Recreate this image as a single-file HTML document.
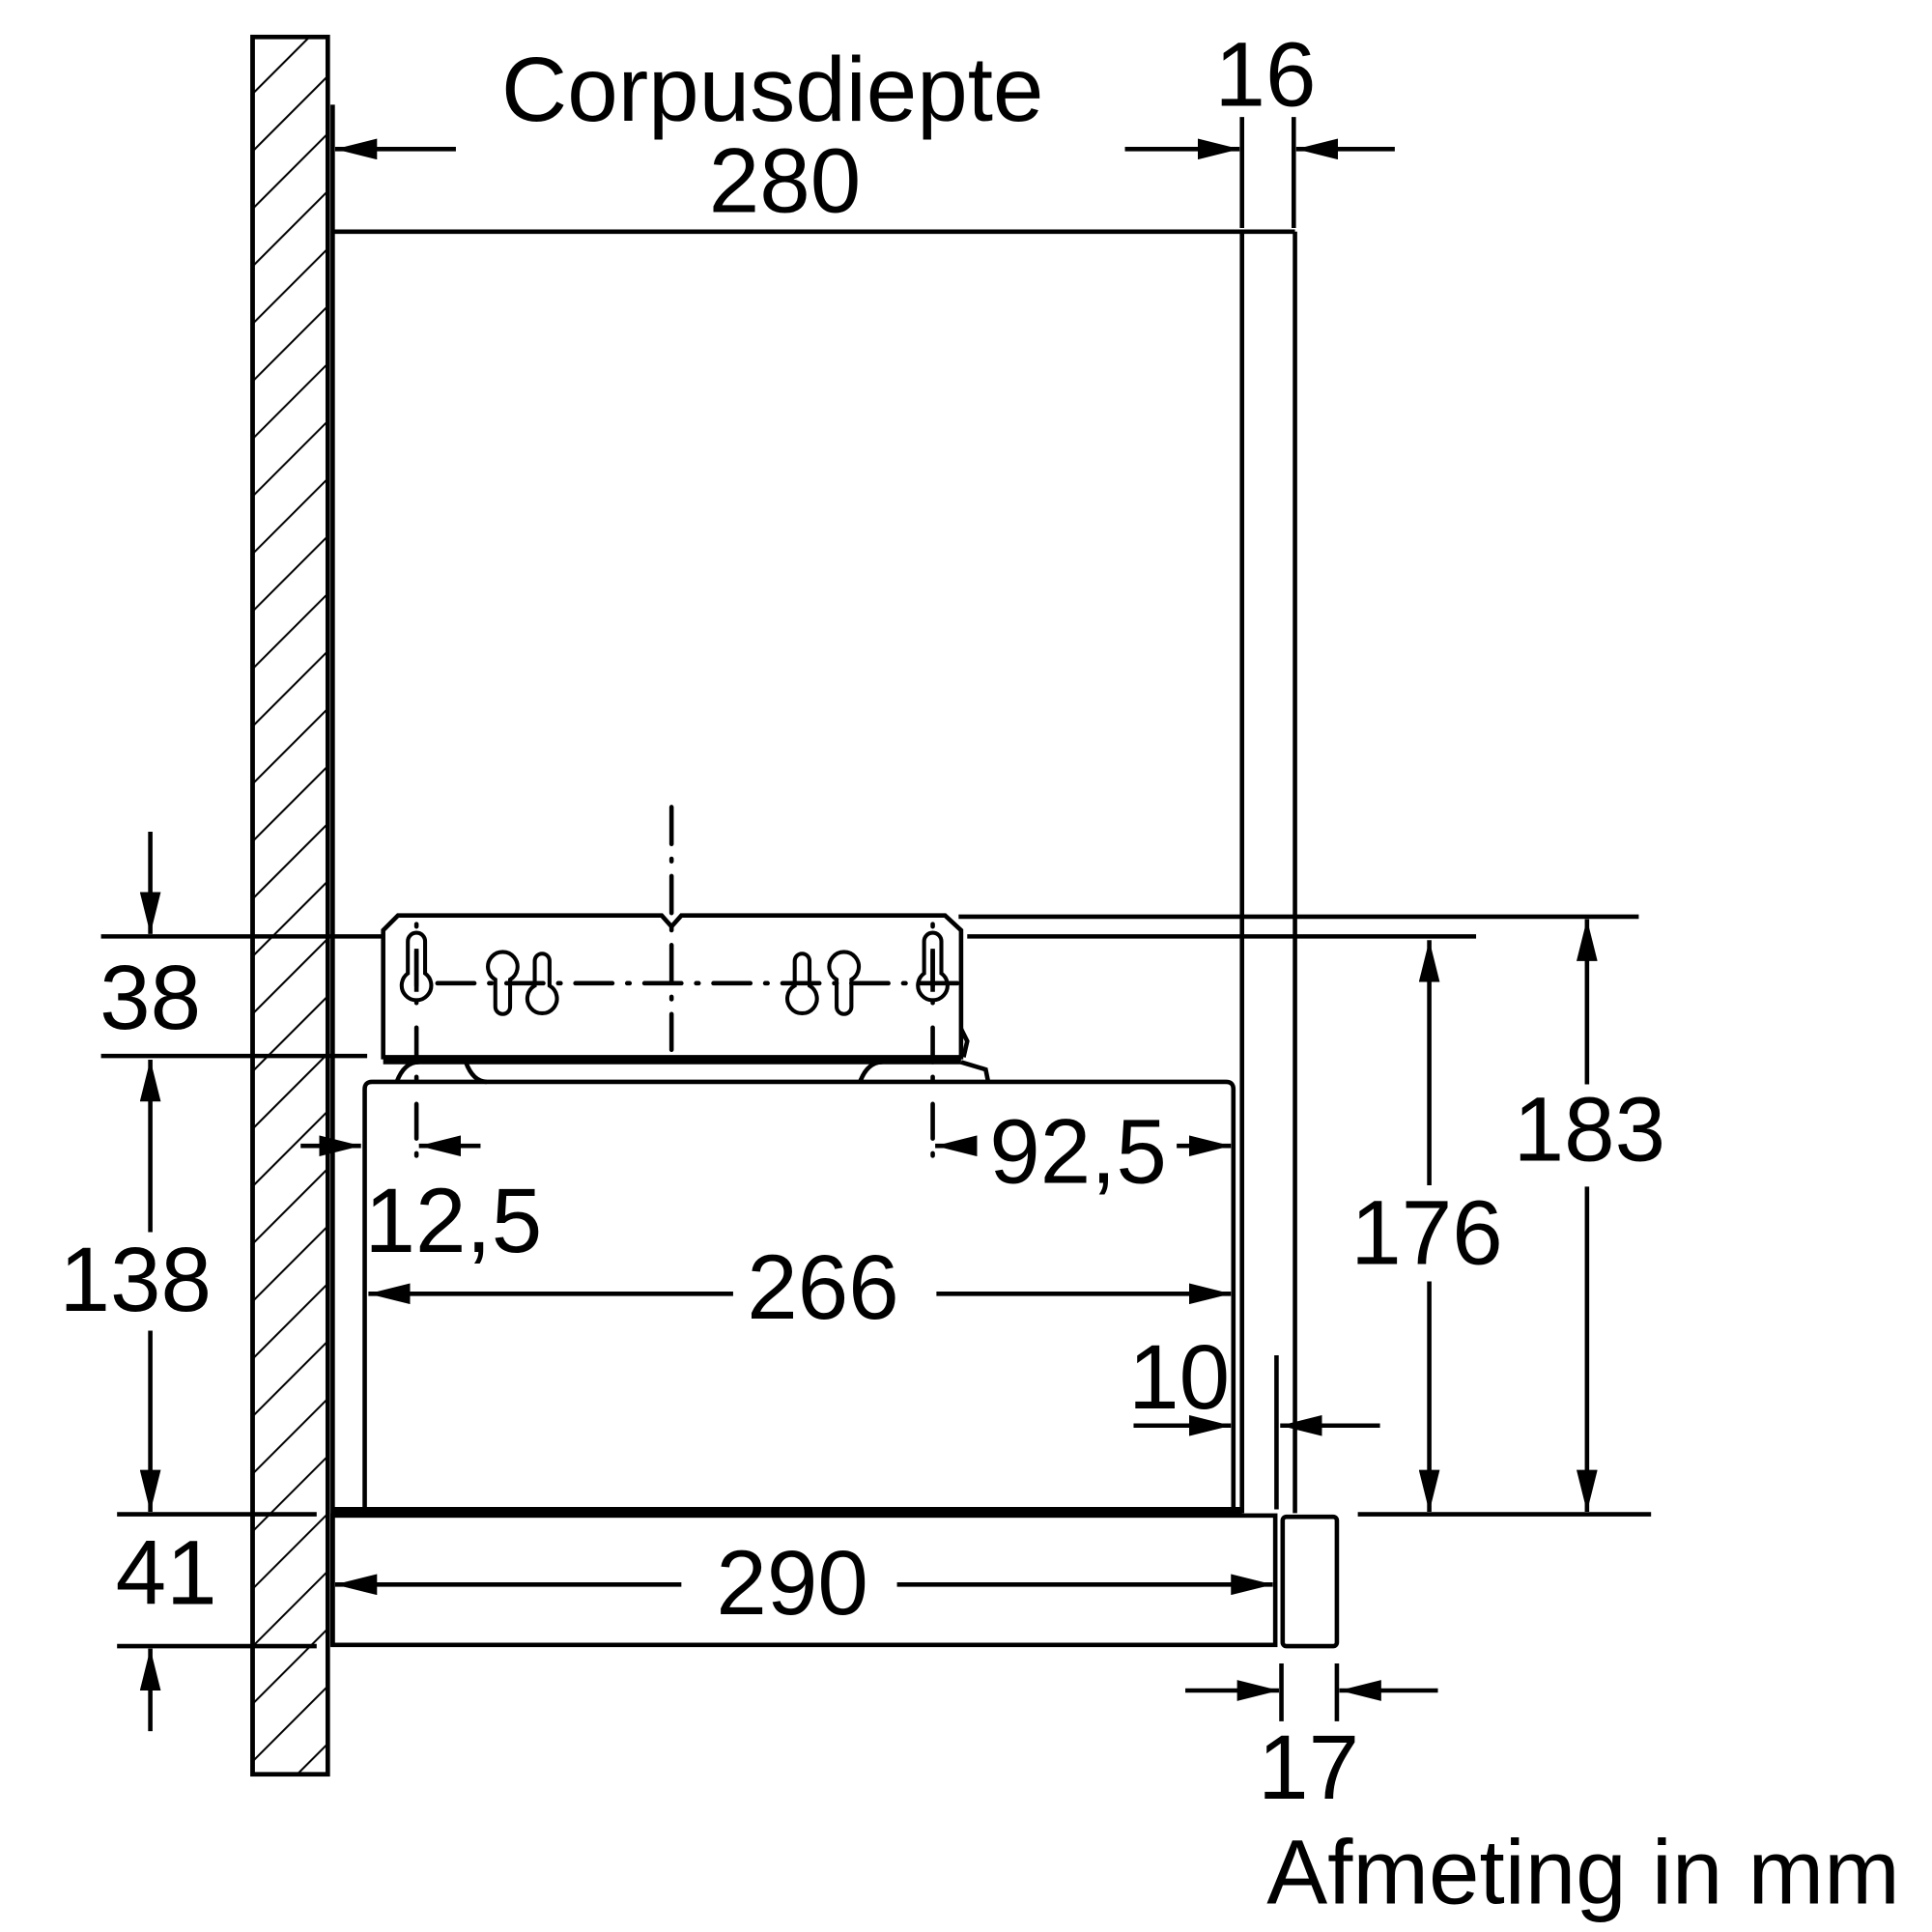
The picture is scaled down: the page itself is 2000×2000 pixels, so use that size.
<!DOCTYPE html>
<html><head><meta charset="utf-8"><style>html,body{margin:0;padding:0;background:#fff}svg{display:block}</style></head>
<body>
<svg xmlns="http://www.w3.org/2000/svg" width="2000" height="2000" viewBox="0 0 1568 1568">
<defs>
<pattern id="h" patternUnits="userSpaceOnUse" width="33" height="33" patternTransform="rotate(45)">
<line x1="0" y1="0" x2="0" y2="33" stroke="#000" stroke-width="3.2"/>
</pattern>
<marker id="a" viewBox="0 0 20 10" refX="20" refY="5" markerWidth="34" markerHeight="17" markerUnits="userSpaceOnUse" orient="auto"><path d="M0,0L20,5L0,10z" fill="#000"/></marker>
</defs>
<g fill="none" stroke="#000" stroke-width="3.6">
<rect x="205" y="30" width="61" height="1410" fill="url(#h)"/>
<rect x="205" y="30" width="61" height="1410"/>
<line x1="270" y1="85" x2="270" y2="1336"/>
<line x1="270" y1="188" x2="1051" y2="188"/>
<line x1="1008" y1="188" x2="1008" y2="1228"/>
<line x1="1051" y1="188" x2="1051" y2="1228"/>
<path d="M311,755L323,743L537,743L545,752L553,743L767,743L780,755L780,858L311,858Z"/>
<line x1="311" y1="861" x2="780" y2="861" stroke-width="5.5"/>
<path d="M322,878Q328,862 340,862M378,862Q384,878 395,878M698,878Q704,862 716,862M780,862L800,868L802,878"/>
<path d="M780,835L785,845L782,858"/>
<path d="M331,790L331,764A7,7 0 0 1 345,764L345,790A12,12 0 1 1 331,790Z" stroke-width="3.2"/>
<line x1="338" y1="770" x2="338" y2="805"/>
<path d="M402,795A12,12 0 1 1 414,795L414,817A6,6 0 0 1 402,817Z" stroke-width="3.2"/>
<path d="M434,800L434,780A6,6 0 0 1 446,780L446,800A12,12 0 1 1 434,800Z" stroke-width="3.2"/>
<path d="M645,800L645,780A6,6 0 0 1 657,780L657,800A12,12 0 1 1 645,800Z" stroke-width="3.2"/>
<path d="M679,795A12,12 0 1 1 691,795L691,817A6,6 0 0 1 679,817Z" stroke-width="3.2"/>
<path d="M750,790L750,764A7,7 0 0 1 764,764L764,790A12,12 0 1 1 750,790Z" stroke-width="3.2"/>
<line x1="757" y1="770" x2="757" y2="805"/>
<line x1="355" y1="798" x2="785" y2="798" stroke-dasharray="30,12,2,12" stroke-linecap="round"/>
<line x1="545" y1="655" x2="545" y2="852" stroke-dasharray="30,12,2,12" stroke-linecap="round"/>
<line x1="338" y1="750" x2="338" y2="950" stroke-dasharray="2,20,28,12" stroke-linecap="round"/>
<line x1="757" y1="750" x2="757" y2="950" stroke-dasharray="2,20,28,12" stroke-linecap="round"/>
<path d="M296,1228L296,884Q296,878 302,878L995,878Q1001,878 1001,884L1001,1228"/>
<line x1="270" y1="1226" x2="1008" y2="1226" stroke-width="6"/>
<rect x="270" y="1230" width="765" height="105"/>
<rect x="1041" y="1231" width="44" height="105" rx="3"/>
<line x1="82" y1="760" x2="310" y2="760"/>
<line x1="785" y1="760" x2="1198" y2="760"/>
<line x1="778" y1="744" x2="1330" y2="744"/>
<line x1="82" y1="857" x2="298" y2="857"/>
<line x1="95" y1="1229" x2="257" y2="1229"/>
<line x1="1102" y1="1229" x2="1340" y2="1229"/>
<line x1="95" y1="1336" x2="257" y2="1336"/>
<line x1="370" y1="121" x2="272" y2="121" marker-end="url(#a)"/>
<line x1="1008" y1="95" x2="1008" y2="185"/>
<line x1="1050" y1="95" x2="1050" y2="185"/>
<line x1="913" y1="121" x2="1006" y2="121" marker-end="url(#a)"/>
<line x1="1132" y1="121" x2="1052" y2="121" marker-end="url(#a)"/>
<line x1="122" y1="675" x2="122" y2="758" marker-end="url(#a)"/>
<line x1="122" y1="1000" x2="122" y2="860" marker-end="url(#a)"/>
<line x1="122" y1="1080" x2="122" y2="1227" marker-end="url(#a)"/>
<line x1="122" y1="1405" x2="122" y2="1338" marker-end="url(#a)"/>
<line x1="1288" y1="880" x2="1288" y2="746" marker-end="url(#a)"/>
<line x1="1288" y1="963" x2="1288" y2="1227" marker-end="url(#a)"/>
<line x1="1160" y1="962" x2="1160" y2="763" marker-end="url(#a)"/>
<line x1="1160" y1="1040" x2="1160" y2="1227" marker-end="url(#a)"/>
<line x1="790" y1="930" x2="759" y2="930" marker-end="url(#a)"/>
<line x1="955" y1="930" x2="999" y2="930" marker-end="url(#a)"/>
<line x1="244" y1="930" x2="293" y2="930" marker-end="url(#a)"/>
<line x1="390" y1="930" x2="340" y2="930" marker-end="url(#a)"/>
<line x1="595" y1="1050" x2="299" y2="1050" marker-end="url(#a)"/>
<line x1="760" y1="1050" x2="999" y2="1050" marker-end="url(#a)"/>
<line x1="920" y1="1157" x2="999" y2="1157" marker-end="url(#a)"/>
<line x1="1036" y1="1100" x2="1036" y2="1225"/>
<line x1="1120" y1="1157" x2="1039" y2="1157" marker-end="url(#a)"/>
<line x1="553" y1="1286" x2="272" y2="1286" marker-end="url(#a)"/>
<line x1="728" y1="1286" x2="1033" y2="1286" marker-end="url(#a)"/>
<line x1="1040" y1="1350" x2="1040" y2="1397"/>
<line x1="1085" y1="1350" x2="1085" y2="1397"/>
<line x1="962" y1="1372" x2="1038" y2="1372" marker-end="url(#a)"/>
<line x1="1167" y1="1372" x2="1087" y2="1372" marker-end="url(#a)"/>
</g>
<g font-family="Liberation Sans, sans-serif" font-size="74" text-anchor="middle" fill="#000">
<text x="627" y="98">Corpusdiepte</text>
<text x="637" y="172">280</text>
<text x="1027" y="86">16</text>
<text x="122" y="835">38</text>
<text x="110" y="1064">138</text>
<text x="135" y="1302">41</text>
<text x="1290" y="942">183</text>
<text x="1158" y="1026">176</text>
<text x="875" y="960">92,5</text>
<text x="368" y="1016">12,5</text>
<text x="668" y="1070">266</text>
<text x="957" y="1143">10</text>
<text x="643" y="1310">290</text>
<text x="1062" y="1460">17</text>
<text x="1285" y="1545">Afmeting in mm</text>
</g>
</svg>
</body></html>
